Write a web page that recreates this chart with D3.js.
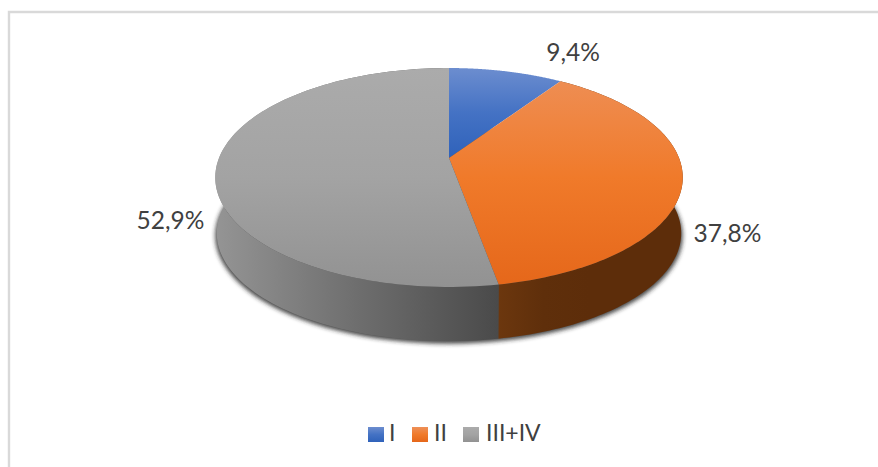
<!DOCTYPE html>
<html><head><meta charset="utf-8">
<script src="https://cdn.jsdelivr.net/npm/d3@7"></script>
<style>html,body{margin:0;padding:0;background:#fff}svg{display:block}text{font-family:Lato,"Open Sans",sans-serif;fill:#404040}</style>
</head><body>
<svg id="c" width="878" height="467"></svg>
<script>
const categories = ["I", "II", "III+IV"];
const values = [9.4, 37.8, 52.9];
const labels = ["9,4%", "37,8%", "52,9%"];
const topColors = [["#6c8dcf", "#4472c4", "#2f62ba"], ["#ee9058", "#f07a2a", "#e5671a"], ["#ababab", "#a3a3a3", "#929292"]];
const wallColors = [["#2a4a80", "#2a4a80"], ["#6c370e", "#5f2f0b", "#5d2d0a", "#5d2d0a", "#5d2d0a"], ["#949494", "#6e6e6e", "#4a4a4a"]];

const svg = d3.select("#c");
const defs = svg.append("defs");
const stops = (grad, colors) => grad.selectAll("stop").data(colors).join("stop")
  .attr("offset", (c, j) => j / (colors.length - 1)).attr("stop-color", c => c);

// frame
svg.append("path").attr("d", "M9,467V12H878").attr("fill", "none").attr("stroke", "#d9d9d9").attr("stroke-width", 2.4);

// perspective disc: plane coordinates to screen
const K = -0.178;
const project = (t, o) => {
  const u = Math.sin(t), v = -Math.cos(t), w = 1 + K * v;
  return [o.x + o.c * u / w, o.y + o.b * v / w];
};
const topDisc = {x: 449, y: 158, c: 230, b: 106};
const baseDisc = {x: 449, y: 214, c: 228.5, b: 104.5};

const arcs = d3.pie().sort(null)(values);
const line = d3.line();
const samples = (a, b) => d3.range(0, 121).map(i => a + (b - a) * i / 120);

arcs.forEach((d, i) => {
  stops(defs.append("linearGradient").attr("id", "t" + i).attr("gradientUnits", "userSpaceOnUse")
    .attr("x1", 0).attr("x2", 0).attr("y1", 68).attr("y2", i === 0 ? 158 : 287), topColors[i]);
});
const wallRange = [null, [498, 680], [217, 498]];
arcs.forEach((d, i) => {
  if (!wallRange[i]) return;
  stops(defs.append("linearGradient").attr("id", "w" + i).attr("gradientUnits", "userSpaceOnUse")
    .attr("x1", wallRange[i][0]).attr("x2", wallRange[i][1]).attr("y1", 0).attr("y2", 0), wallColors[i]);
});
const blur = defs.append("filter").attr("id", "shadow").attr("x", "-10%").attr("y", "-10%").attr("width", "120%").attr("height", "130%");
blur.append("feGaussianBlur").attr("stdDeviation", 1.9);

// soft shadow under the disc
const rim = samples(0, 2 * Math.PI).map(t => project(t, {...baseDisc, c: baseDisc.c + 1.5}));
svg.append("path").attr("d", line(rim.map(p => [p[0], p[1] + 2.5])) + "Z")
  .attr("fill", "#2a2a2a").attr("fill-opacity", 0.85).attr("filter", "url(#shadow)");

// walls
const walls = svg.append("g");
arcs.forEach((d, i) => {
  if (!wallRange[i]) return;
  const ts = samples(d.startAngle, d.endAngle);
  const pts = ts.map(t => project(t, topDisc)).concat(ts.slice().reverse().map(t => project(t, baseDisc)));
  walls.append("path").attr("d", line(pts) + "Z").attr("fill", `url(#w${i})`);
});

// top faces
const faces = svg.append("g");
arcs.forEach((d, i) => {
  const pts = [[topDisc.x, topDisc.y]].concat(samples(d.startAngle, d.endAngle).map(t => project(t, topDisc)));
  faces.append("path").attr("d", line(pts) + "Z").attr("fill", `url(#t${i})`);
});

// data labels
const labelAt = [[573, 61], [727.5, 242], [170.5, 229]];
svg.append("g").selectAll("text").data(labels).join("text")
  .attr("x", (d, i) => labelAt[i][0]).attr("y", (d, i) => labelAt[i][1])
  .attr("text-anchor", "middle").attr("font-size", 24.5).text(d => d);

// legend
const swatchX = [368, 412, 463], labelX = [389, 434, 486];
const legend = svg.append("g");
categories.forEach((c, i) => {
  stops(defs.append("linearGradient").attr("id", "l" + i).attr("x1", 0).attr("x2", 0).attr("y1", 0).attr("y2", 1), topColors[i]);
  legend.append("rect").attr("x", swatchX[i]).attr("y", 427).attr("width", 16).attr("height", 15).attr("fill", `url(#l${i})`);
  legend.append("text").attr("x", labelX[i]).attr("y", 441).attr("font-size", 23).text(c);
});
</script>
</body></html>
